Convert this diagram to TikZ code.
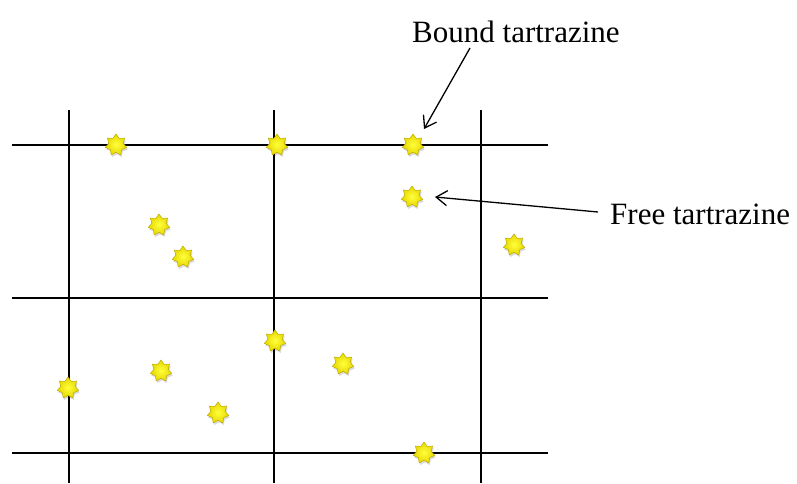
\documentclass[tikz,border=0pt]{standalone}
\usepackage{fontspec}
\setmainfont{Liberation Serif}
\usetikzlibrary{shapes.geometric,arrows.meta}
\definecolor{starin}{RGB}{255,255,60}
\definecolor{starout}{RGB}{230,215,0}
\definecolor{staredge}{RGB}{190,170,0}
\begin{document}
\begin{tikzpicture}[x=1pt,y=-1pt,
  gridline/.style={line width=1.6pt,black},
  tz/.style={star,star points=7,star point ratio=1.5,minimum size=22pt,inner sep=0pt,
    draw=staredge,line width=0.5pt,
    inner color=starin,outer color=starout},
  tzshadow/.style={star,star points=7,star point ratio=1.5,minimum size=22pt,inner sep=0pt,
    fill=black,opacity=0.15},
  lbl/.style={font=\fontsize{31}{36}\selectfont,inner sep=0pt,anchor=west},
  arr/.style={line width=1.3pt,-{Straight Barb[length=11pt,width=15pt,line width=1.3pt]}}]
\useasboundingbox (0,0) rectangle (797,483);
% grid
\draw[gridline] (12,145) -- (548,145);
\draw[gridline] (12,298) -- (548,298);
\draw[gridline] (12,453) -- (548,453);
\draw[gridline] (69,110) -- (69,483);
\draw[gridline] (274,110) -- (274,483);
\draw[gridline] (481,110) -- (481,483);
% star shadows and stars
\foreach \n/\x/\y in {s1/116/145,s2/277/145,s3/413/145,s4/412/197,s5/159/225,s6/183/257,s7/514/245,
  s8/275/341,s9/343/364,s10/161/371,s11/68/388,s12/218/413,s13/424/453}{
  \node[tzshadow] at (\x+1,\y+2) {};
  \node[tz] (\n) at (\x,\y) {};
}
% labels
\node[lbl] (bound) at (412,32) {Bound tartrazine};
\node[lbl] (free) at (610,214) {Free tartrazine};
\coordinate (ba) at (470,48);
\coordinate (bb) at (424,129);
\coordinate (fa) at (598,212);
\coordinate (fb) at (435,197);
\draw[arr] (ba) -- (bb);
\draw[arr] (fa) -- (fb);
\end{tikzpicture}
\end{document}
